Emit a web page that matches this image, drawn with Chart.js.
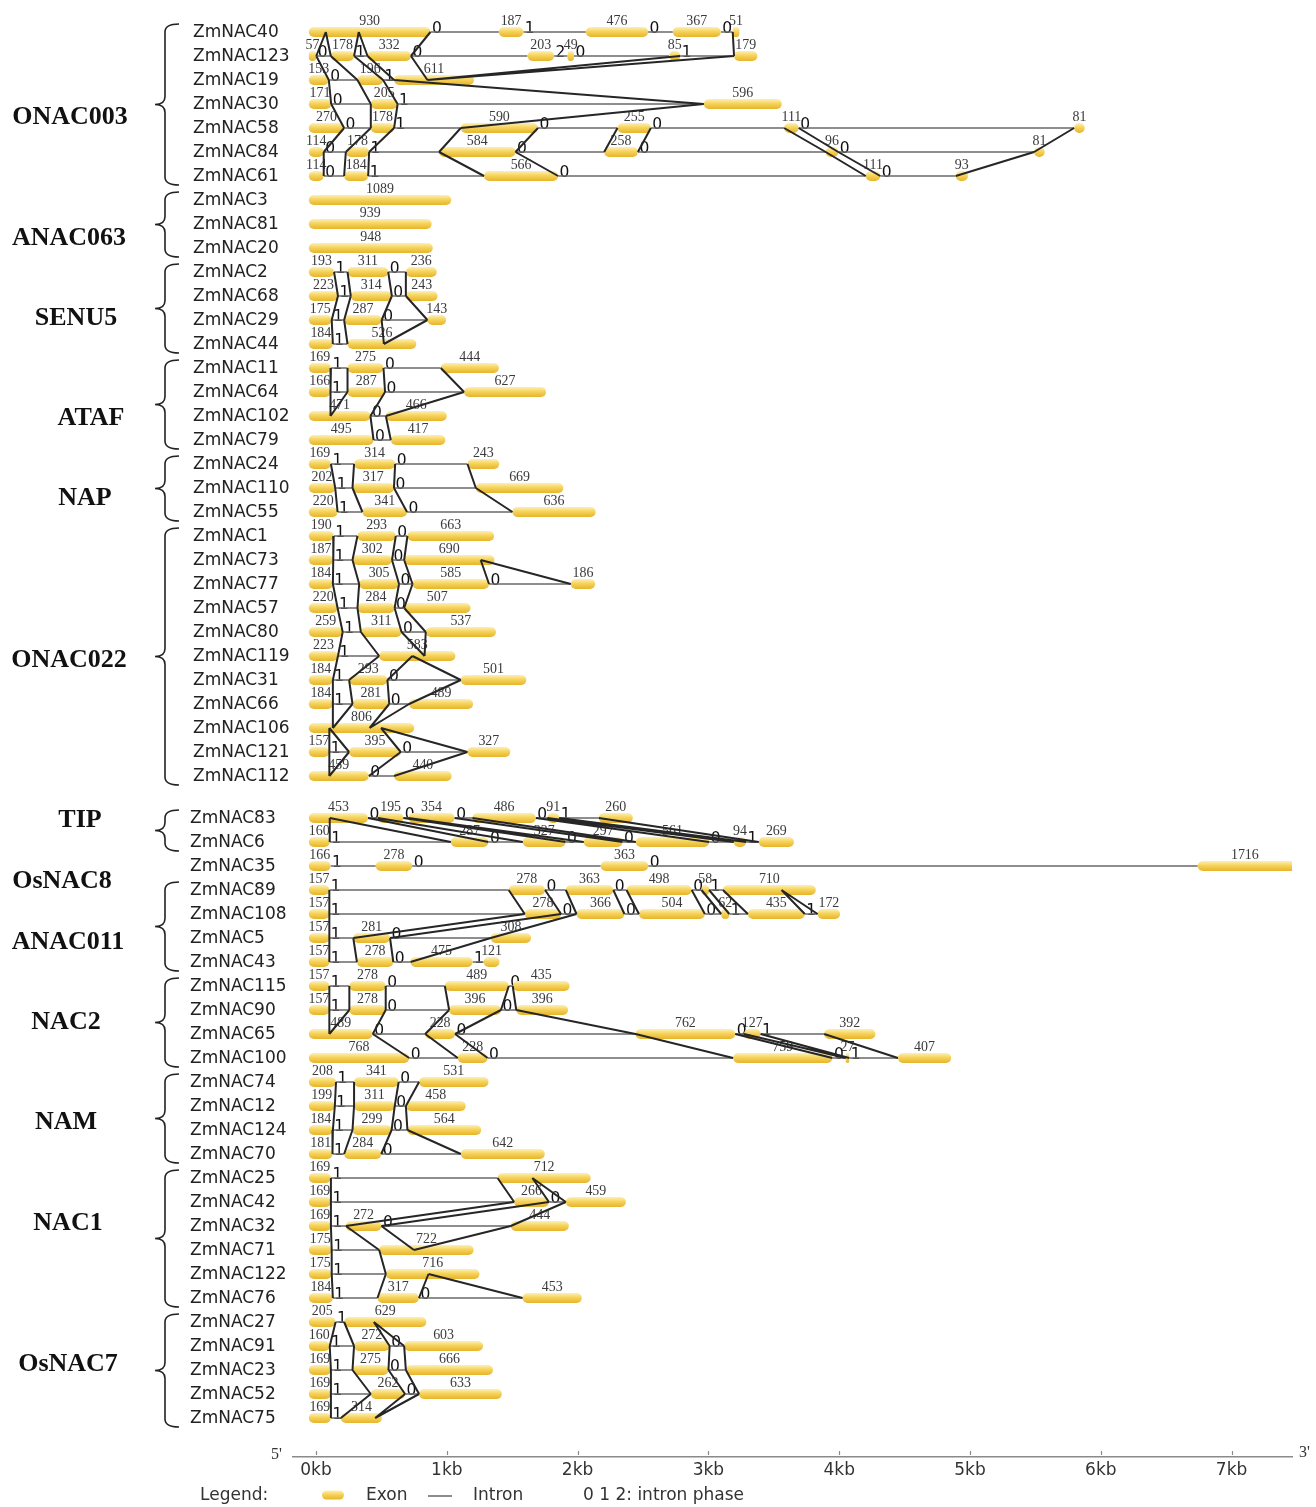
<!DOCTYPE html>
<html><head><meta charset="utf-8"><title>ZmNAC gene structures</title>
<script src="https://cdn.jsdelivr.net/npm/chart.js@4.4.1/dist/chart.umd.min.js"></script>
<style>html,body{margin:0;padding:0;background:#fff;}canvas{display:block}</style>
</head><body>
<canvas id="chart" width="1316" height="1507" style="width:1316px;height:1507px"></canvas>
<script>
// ---------------- DATA ----------------
const geneNames = ['ZmNAC40','ZmNAC123','ZmNAC19','ZmNAC30','ZmNAC58','ZmNAC84','ZmNAC61',
 'ZmNAC3','ZmNAC81','ZmNAC20','ZmNAC2','ZmNAC68','ZmNAC29','ZmNAC44','ZmNAC11','ZmNAC64','ZmNAC102','ZmNAC79',
 'ZmNAC24','ZmNAC110','ZmNAC55','ZmNAC1','ZmNAC73','ZmNAC77','ZmNAC57','ZmNAC80','ZmNAC119','ZmNAC31','ZmNAC66',
 'ZmNAC106','ZmNAC121','ZmNAC112','ZmNAC83','ZmNAC6','ZmNAC35','ZmNAC89','ZmNAC108','ZmNAC5','ZmNAC43',
 'ZmNAC115','ZmNAC90','ZmNAC65','ZmNAC100','ZmNAC74','ZmNAC12','ZmNAC124','ZmNAC70','ZmNAC25','ZmNAC42',
 'ZmNAC32','ZmNAC71','ZmNAC122','ZmNAC76','ZmNAC27','ZmNAC91','ZmNAC23','ZmNAC52','ZmNAC75'];

// exon lengths (bp), in gene order
const exonLengths = [
 [930,187,476,367,51],[57,178,332,203,49,85,179],[153,196,611],[171,205,596],[270,178,590,255,111,81],
 [114,178,584,258,96,81],[114,184,566,111,93],
 [1089],[939],[948],
 [193,311,236],[223,314,243],[175,287,143],[184,526],
 [169,275,444],[166,287,627],[471,466],[495,417],
 [169,314,243],[202,317,669],[220,341,636],
 [190,293,663],[187,302,690],[184,305,585,186],[220,284,507],[259,311,537],[223,583],[184,293,501],
 [184,281,489],[806],[157,395,327],[459,440],
 [453,195,354,486,91,260],[160,287,327,297,561,94,269],
 [166,278,363,1716],
 [157,278,363,498,58,710],[157,278,366,504,62,435,172],[157,281,308],[157,278,475,121],
 [157,278,489,435],[157,278,396,396],[489,228,762,127,392],[768,228,759,27,407],
 [208,341,531],[199,311,458],[184,299,564],[181,284,642],
 [169,712],[169,266,459],[169,272,444],[175,722],[175,716],[184,317,453],
 [205,629],[160,272,603],[169,275,666],[169,262,633],[169,314]
];

// intron lengths (bp)
const intronLengths = [
 [523,478,189,91],[111,103,891,103,728,411],[219,84],[303,2341],[204,510,608,1019,2106],
 [169,535,678,1436,1497],[156,886,2352,577],
 [],[],[],
 [103,135],[98,107],[95,350],[112],
 [127,438],[130,604],[118],[132],
 [177,553],[132,626],[190,806],
 [182,89],[147,93],[201,103,625],[152,73],[139,185],[315],[124,561],
 [150,152],[],[151,510],[193],
 [75,38,135,87,303],[926,263,139,101,188,97],
 [346,1442,4201],
 [1371,159,101,75,106],[1494,118,111,125,142,98],[183,770],[211,131,85],
 [153,452,30],[153,485,117],[401,1380,67,486],[371,1877,102,372],
 [138,156],[147,85],[150,121],[89,608],
 [1274],[1401,129],[114,989],[363],[414],[341,792],
 [65],[186,111],[165,133],[305,107],[76]
];

// intron phases
const intronPhases = [
 [0,1,0,0],[0,1,0,2,0,1],[0,1],[0,1],[0,1,0,0,0],[0,1,0,0,0],[0,1,0,0],
 [],[],[],
 [1,0],[1,0],[1,0],[1],
 [1,0],[1,0],[0],[0],
 [1,0],[1,0],[1,0],
 [1,0],[1,0],[1,0,0],[1,0],[1,0],[1],[1,0],[1,0],[],[1,0],[0],
 [0,0,0,0,1],[1,0,0,0,0,1],
 [1,0,0],
 [1,0,0,0,1],[1,0,0,0,1,1],[1,0],[1,0,1],
 [1,0,0],[1,0,0],[0,0,0,1],[0,0,0,1],
 [1,0],[1,0],[1,0],[1,0],
 [1],[1,0],[1,0],[1],[1],[1,0],
 [1],[1,0],[1,0],[1,0],[1]
];

const groupNames = ['ONAC003','ANAC063','SENU5','ATAF','NAP','ONAC022','TIP','OsNAC8','ANAC011','NAC2','NAM','NAC1','OsNAC7'];
const groupFirstGene = [0,7,10,14,18,21,32,34,35,39,43,47,53];
const groupLastGene  = [6,9,13,17,20,31,33,34,38,42,46,52,57];

// hand-read intron alignment links for ONAC003: [geneA, bpA, geneB, bpB]
const onac003Links = [
 [0,130,1,57],[0,130,1,168],[0,382,1,346],[0,382,1,449],[0,930,1,781],[0,3241,1,3251],
 [1,57,2,153],[1,168,2,372],[1,346,2,568],[1,449,2,652],[1,781,2,907],[1,2840,2,907],[1,3251,2,907],
 [2,153,3,171],[2,372,3,474],[2,568,3,679],[2,652,3,3020],
 [3,171,4,270],[3,474,4,474],[3,679,4,652],[3,3020,4,1162],
 [4,270,5,114],[4,474,5,283],[4,652,5,461],[4,1162,5,996],[4,1752,5,1580],[4,2360,5,2258],
 [4,2615,5,2516],[4,3634,5,3952],[4,3745,5,4048],[4,5851,5,5545],
 [5,114,6,114],[5,283,6,270],[5,461,6,454],[5,996,6,1340],[5,1580,6,1906],[5,3952,6,4258],
 [5,4048,6,4369],[5,5545,6,4946]
];

const axisTickValues = [0,1000,2000,3000,4000,5000,6000,7000];
const axisTickLabels = ['0kb','1kb','2kb','3kb','4kb','5kb','6kb','7kb'];

// ---------------- LAYOUT ----------------
const X0_PX = 316, PX_PER_BP = 0.1308;   // pixel of 0 kb, scale
const ROW0_PX = 32, ROW_PX = 24;         // first row centre, row spacing
const GENE_START = -55;                  // genes start slightly left of 0 kb in the figure
const AXIS_Y = 1457;
const groupLabelX = [70,69,76,91,85,69,80,62,68,66,66,68,68];
const groupLabelRow = [3.54,8.58,11.92,16.08,19.42,26.17,32.83,35.38,37.92,41.25,45.42,49.63,55.5];

function rowPos(r){ return r < 32 ? r : r + 0.75; }

// ---------------- BUILD STRUCTURES ----------------
const genes = geneNames.map((name, g) => {
  const ex = exonLengths[g], intr = intronLengths[g];
  let p = 0, cds = 0; const exons = [], introns = [];
  ex.forEach((len, k) => {
    exons.push({s: p, e: p + len, len, cds0: cds});
    p += len; cds += len;
    if (k < intr.length) { introns.push({s: p, e: p + intr[k], cds, phase: intronPhases[g][k]}); p += intr[k]; }
  });
  return {name, exons, introns, total: cds, pos: rowPos(g)};
});

function cdsToGenomic(g, c){
  for (const e of g.exons) if (c <= e.cds0 + e.len) return e.s + (c - e.cds0);
  return null;
}
function matchIntrons(A, B, shift, tol){
  const pairs = []; let i = 0, j = 0;
  while (i < A.introns.length && j < B.introns.length){
    const d = A.introns[i].cds + shift - B.introns[j].cds;
    if (Math.abs(d) <= tol){ pairs.push([i, j]); i++; j++; }
    else if (d < 0) i++; else j++;
  }
  return pairs;
}
function pairLinks(ra, rb){
  const A = genes[ra], B = genes[rb], tol = 160;
  const p0 = matchIntrons(A, B, 0, tol);
  const s3 = B.total - A.total;
  const p3 = matchIntrons(A, B, s3, tol);
  let pairs = p0, shift = 0;
  if (p3.length > p0.length){ pairs = p3; shift = s3; }
  const out = [];
  const mA = new Set(pairs.map(p => p[0])), mB = new Set(pairs.map(p => p[1]));
  pairs.forEach(([i, j]) => {
    out.push([ra, A.introns[i].s, rb, B.introns[j].s]);
    out.push([ra, A.introns[i].e, rb, B.introns[j].e]);
  });
  A.introns.forEach((it, i) => {
    if (mA.has(i)) return;
    const c = it.cds + shift;
    if (c > 0 && c < B.total){ const p = cdsToGenomic(B, c); out.push([ra, it.s, rb, p]); out.push([ra, it.e, rb, p]); }
  });
  B.introns.forEach((it, j) => {
    if (mB.has(j)) return;
    const c = it.cds - shift;
    if (c > 0 && c < A.total){ const p = cdsToGenomic(A, c); out.push([ra, p, rb, it.s]); out.push([ra, p, rb, it.e]); }
  });
  return out;
}

let links = [];
groupNames.forEach((name, k) => {
  if (name === 'ONAC003'){ links = links.concat(onac003Links); return; }
  for (let r = groupFirstGene[k]; r < groupLastGene[k]; r++) links = links.concat(pairLinks(r, r + 1));
});

const exonData = [];
genes.forEach(g => g.exons.forEach(e => exonData.push({x: [GENE_START + e.s, GENE_START + e.e], y: g.pos})));
const intronData = [];
genes.forEach(g => g.introns.forEach(it => {
  intronData.push({x: GENE_START + it.s, y: g.pos}, {x: GENE_START + it.e, y: g.pos}, {x: null, y: null});
}));
const linkData = [];
links.forEach(([ra, ba, rb, bb]) => {
  linkData.push({x: GENE_START + ba, y: genes[ra].pos}, {x: GENE_START + bb, y: genes[rb].pos}, {x: null, y: null});
});

// ---------------- DRAW HELPERS ----------------
function exonGradient(ctx, y, h){
  if (!isFinite(y)) return '#f3c94b';
  const g = ctx.createLinearGradient(0, y - h/2, 0, y + h/2);
  g.addColorStop(0, '#fdf0b6'); g.addColorStop(0.45, '#f6d35a'); g.addColorStop(1, '#e7b42b');
  return g;
}
function scaledText(ctx, txt, x, y, sx, font, color, align){
  ctx.save(); ctx.translate(x, y); ctx.scale(sx, 1);
  ctx.font = font; ctx.fillStyle = color; ctx.textAlign = align; ctx.textBaseline = 'alphabetic';
  ctx.fillText(txt, 0, 0); ctx.restore();
}
function brace(ctx, xTip, xStem, xEnd, top, mid, bot){
  const r = 8;
  ctx.beginPath();
  ctx.moveTo(xEnd, top);
  ctx.quadraticCurveTo(xStem, top, xStem, top + r);
  ctx.lineTo(xStem, mid - r);
  ctx.quadraticCurveTo(xStem, mid, xTip, mid);
  ctx.quadraticCurveTo(xStem, mid, xStem, mid + r);
  ctx.lineTo(xStem, bot - r);
  ctx.quadraticCurveTo(xStem, bot, xEnd, bot);
  ctx.stroke();
}

const decor = {
  id: 'geneDecor',
  beforeDatasetsDraw(chart){
    const {ctx, scales: {x, y}} = chart;
    genes.forEach(g => {
      const py = y.getPixelForValue(g.pos);
      g.exons.forEach(e => {
        const a = Math.max(GENE_START + e.s, x.min), b = Math.min(GENE_START + e.e, x.max);
        const cx = (x.getPixelForValue(a) + x.getPixelForValue(b)) / 2;
        scaledText(ctx, String(e.len), cx, py - 7, 0.93, '15px "Liberation Serif"', '#3a3a3a', 'center');
      });
      g.introns.forEach(it => {
        const px = x.getPixelForValue(GENE_START + it.s);
        ctx.save();
        ctx.font = '15.5px "DejaVu Sans"'; ctx.fillStyle = '#111'; ctx.textAlign = 'left'; ctx.textBaseline = 'alphabetic';
        ctx.fillText(String(it.phase), px + 1.5, py + 0.5);
        ctx.restore();
      });
    });
  },
  afterDraw(chart){
    const {ctx, scales: {x, y}} = chart;
    ctx.save();
    // gene names
    ctx.font = '17px "DejaVu Sans"'; ctx.fillStyle = '#222'; ctx.textAlign = 'left'; ctx.textBaseline = 'middle';
    genes.forEach((g, i) => ctx.fillText(g.name, i < 32 ? 193 : 190, y.getPixelForValue(g.pos) + 0.5));
    // group labels and braces
    ctx.strokeStyle = '#222'; ctx.lineWidth = 1.6;
    groupNames.forEach((name, k) => {
      ctx.font = 'bold 26px "Liberation Serif"'; ctx.fillStyle = '#111'; ctx.textAlign = 'center'; ctx.textBaseline = 'middle';
      ctx.fillText(name, groupLabelX[k], y.getPixelForValue(groupLabelRow[k]));
      if (groupLastGene[k] > groupFirstGene[k]){
        const top = y.getPixelForValue(genes[groupFirstGene[k]].pos) - 8;
        const bot = y.getPixelForValue(genes[groupLastGene[k]].pos) + 9;
        brace(ctx, 155, 165, 179, top, (top + bot) / 2, bot);
      }
    });
    // axis tick marks (above the line)
    ctx.strokeStyle = '#8a8a8a'; ctx.lineWidth = 1.2;
    const ab = chart.chartArea.bottom;
    axisTickValues.forEach(v => {
      const px = Math.round(x.getPixelForValue(v)) + 0.5;
      ctx.beginPath(); ctx.moveTo(px, ab - 6); ctx.lineTo(px, ab - 2); ctx.stroke();
    });
    ctx.font = '16px "Liberation Serif"'; ctx.fillStyle = '#333'; ctx.textAlign = 'left'; ctx.textBaseline = 'middle';
    ctx.fillText("5'", 271, ab - 2);
    ctx.fillText("3'", 1299, ab - 4);
    // legend
    const ly = 1496;
    ctx.font = '17px "DejaVu Sans"'; ctx.fillStyle = '#333'; ctx.textBaseline = 'middle';
    ctx.fillText('Legend:', 200, ly);
    ctx.fillStyle = exonGradient(ctx, ly - 1, 9);
    ctx.beginPath(); ctx.roundRect(322, ly - 5.5, 22, 9, 4.5); ctx.fill();
    ctx.fillStyle = '#333';
    ctx.fillText('Exon', 366, ly);
    ctx.strokeStyle = '#666'; ctx.lineWidth = 1.5;
    ctx.beginPath(); ctx.moveTo(428, ly); ctx.lineTo(452, ly); ctx.stroke();
    ctx.fillText('Intron', 473, ly);
    ctx.fillText('0 1 2: intron phase', 583, ly);
    ctx.restore();
  }
};

// ---------------- CHART ----------------
const chart = new Chart(document.getElementById('chart').getContext('2d'), {
  type: 'line',
  data: {
    datasets: [
      { type: 'line', label: 'Alignment', data: linkData, order: 0, borderColor: '#262626', borderWidth: 2,
        pointRadius: 0, spanGaps: false, tension: 0, fill: false, indexAxis: 'x' },
      { type: 'bar', label: 'Exon', data: exonData, order: 1, indexAxis: 'y', barThickness: 10,
        borderRadius: 5, borderSkipped: false, borderWidth: 0, inflateAmount: 0,
        backgroundColor: (c) => {
          const ch = c.chart;
          if (c.type !== 'data' || !ch.scales || !ch.scales.y || !c.raw || !ch.chartArea) return '#f3c94b';
          return exonGradient(ch.ctx, ch.scales.y.getPixelForValue(c.raw.y), 10);
        } },
      { type: 'line', label: 'Intron', data: intronData, order: 2, borderColor: '#6a6a6a', borderWidth: 1.4,
        pointRadius: 0, spanGaps: false, tension: 0, fill: false, indexAxis: 'x' }
    ]
  },
  options: {
    responsive: false, animation: false, devicePixelRatio: 1, events: [],
    layout: { padding: { left: 293, right: 24, top: 8, bottom: 26 } },
    plugins: { legend: { display: false }, tooltip: { enabled: false } },
    scales: {
      x: { type: 'linear', min: -176, max: 7462, offset: false,
           grid: { display: false, drawTicks: false, tickLength: 0 }, border: { display: true, color: '#8a8a8a', width: 1.5 },
           afterBuildTicks: (s) => { s.ticks = axisTickValues.map(v => ({ value: v })); },
           ticks: { autoSkip: false, maxRotation: 0, padding: 3, color: '#333',
                    font: { family: 'DejaVu Sans', size: 17 },
                    callback: (v) => { const i = axisTickValues.indexOf(v); return i >= 0 ? axisTickLabels[i] : ''; } } },
      y: { type: 'linear', display: false, reverse: true, min: -1, max: 59.375, offset: false }
    }
  },
  plugins: [decor]
});

(function fit(){
  const ca = chart.chartArea;
  chart.options.layout.padding.bottom += (ca.bottom - AXIS_Y);
  chart.update('none');
  const a = chart.chartArea;
  chart.options.scales.x.min = (a.left - X0_PX) / PX_PER_BP;
  chart.options.scales.x.max = (a.right - X0_PX) / PX_PER_BP;
  chart.options.scales.y.min = (a.top - ROW0_PX) / ROW_PX;
  chart.options.scales.y.max = (a.bottom - ROW0_PX) / ROW_PX;
  chart.update('none');
})();
</script>
</body></html>
